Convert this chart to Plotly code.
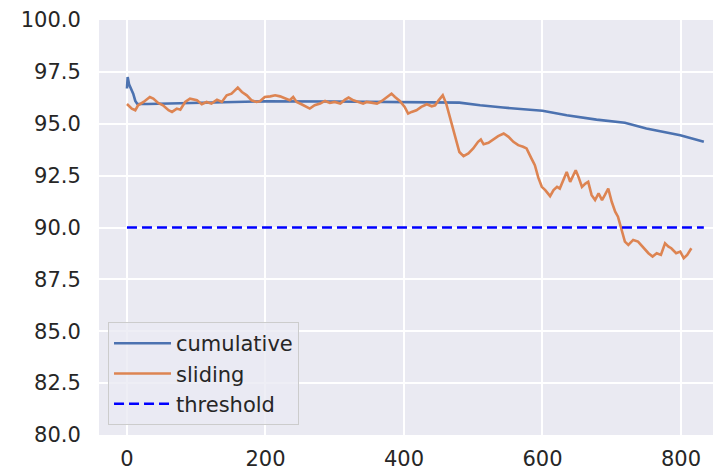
import plotly.graph_objects as go

# Cumulative accuracy
cum_x = [0, 1, 3, 6, 9, 12, 15, 30, 100, 200, 300, 365, 400, 470, 480, 510, 543, 600, 635, 678, 719, 750, 799, 833]
cum_y = [96.7, 97.25, 96.9, 96.7, 96.45, 96.1, 95.95, 95.95, 96.0, 96.08, 96.07, 96.05, 96.05, 96.05, 96.02, 95.89, 95.78, 95.63, 95.41, 95.2, 95.05, 94.77, 94.45, 94.13]

# Sliding-window accuracy
sl_x = [0, 7, 12, 16, 24, 33, 38, 45, 52, 60, 65, 72, 77, 84, 91, 101, 108, 115, 122, 130, 137,
        144, 151, 160, 166, 173, 180, 187, 192, 199, 207, 214, 221, 228, 235, 240, 245, 252, 260,
        264, 271, 279, 286, 293, 300, 308, 315, 320, 327, 334, 341, 346, 353, 361, 368, 375, 382,
        387, 394, 401, 406, 411, 418, 425, 433, 440, 445, 450, 456, 461, 466, 471, 476, 480, 486,
        493, 500, 507, 511, 515, 522, 529, 536, 544, 551, 558, 565, 572, 577, 584, 589, 594, 599,
        604, 611, 616, 621, 625, 630, 635, 640, 645, 648, 652, 657, 662, 666, 671, 676, 681, 686,
        690, 695, 700, 705, 709, 714, 719, 724, 731, 738, 746, 753, 759, 765, 771, 777, 782, 786,
        793, 799, 804, 809, 815]
sl_y = [95.95, 95.73, 95.65, 95.89, 96.05, 96.29, 96.21, 96.0, 95.89, 95.65, 95.57, 95.73, 95.68,
        96.05, 96.21, 96.13, 95.94, 96.05, 95.97, 96.16, 96.05, 96.37, 96.45, 96.74, 96.53, 96.37,
        96.13, 96.05, 96.08, 96.29, 96.32, 96.37, 96.32, 96.21, 96.13, 96.29, 96.05, 95.94, 95.81,
        95.73, 95.89, 95.97, 96.1, 96.0, 96.05, 95.97, 96.16, 96.26, 96.13, 96.05, 95.97, 96.05,
        96.0, 95.97, 96.1, 96.29, 96.45, 96.29, 96.1, 95.81, 95.49, 95.57, 95.65, 95.81, 95.94,
        95.84, 95.89, 96.13, 96.37, 95.97, 95.33, 94.69, 94.05, 93.64, 93.44, 93.57, 93.81, 94.13,
        94.24, 94.01, 94.08, 94.24, 94.4, 94.53, 94.37, 94.13, 93.97, 93.89, 93.81, 93.33, 93.0,
        92.4, 91.96, 91.8, 91.51, 91.8, 91.96, 91.88, 92.28, 92.68, 92.2, 92.6, 92.76, 92.44, 91.96,
        92.12, 92.2, 91.56, 91.32, 91.64, 91.32, 91.56, 91.88, 91.24, 90.76, 90.52, 89.96, 89.32,
        89.16, 89.4, 89.32, 89.0, 88.76, 88.6, 88.76, 88.68, 89.24, 89.08, 89.0, 88.76, 88.84,
        88.52, 88.68, 89.0]

threshold_value = 90.0
x_ticks = [0, 200, 400, 600, 800]
y_ticks = [80.0, 82.5, 85.0, 87.5, 90.0, 92.5, 95.0, 97.5, 100.0]

TXT = "#262626"
FONT = "DejaVu Sans"
FS = 21

fig = go.Figure()
fig.add_trace(go.Scatter(x=cum_x, y=cum_y, mode="lines", name="cumulative",
                         line=dict(color="#4C72B0", width=2.6)))
fig.add_trace(go.Scatter(x=sl_x, y=sl_y, mode="lines", name="sliding",
                         line=dict(color="#DD8452", width=2.6)))
fig.add_trace(go.Scatter(x=[cum_x[0], cum_x[-1]], y=[threshold_value, threshold_value],
                         mode="lines", name="threshold",
                         line=dict(color="#0000FF", width=2.6, dash="10px,5px")))

# The page body has an 8px margin, so the figure is sized to fit the remaining window.
fig.update_layout(
    width=713, height=464,
    margin=dict(l=91, r=0, t=12, b=37, pad=0, autoexpand=False),
    paper_bgcolor="white", plot_bgcolor="#EAEAF2",
    font=dict(family=FONT, size=FS, color=TXT),
    showlegend=True,
    legend=dict(x=0.0145, y=0.024, xanchor="left", yanchor="bottom",
                bgcolor="rgba(234,234,242,0.8)", bordercolor="#CCCCCC", borderwidth=1,
                itemwidth=57,
                font=dict(family=FONT, size=FS, color=TXT), tracegroupgap=0),
)
fig.update_xaxes(range=[-40.4, 857.8], tickvals=x_ticks, showgrid=True, gridcolor="white",
                 gridwidth=1.5, zeroline=False, showline=False, ticks="outside", ticklen=5,
                 tickcolor="rgba(0,0,0,0)", automargin=False,
                 tickfont=dict(family=FONT, size=FS, color=TXT))
fig.update_yaxes(range=[80, 100], tickvals=y_ticks, tickformat=".1f", showgrid=True,
                 gridcolor="white", gridwidth=1.5, zeroline=False, showline=False,
                 ticks="outside", ticklen=13, tickcolor="rgba(0,0,0,0)", automargin=False,
                 tickfont=dict(family=FONT, size=FS, color=TXT))

fig.write_html("out.html")
